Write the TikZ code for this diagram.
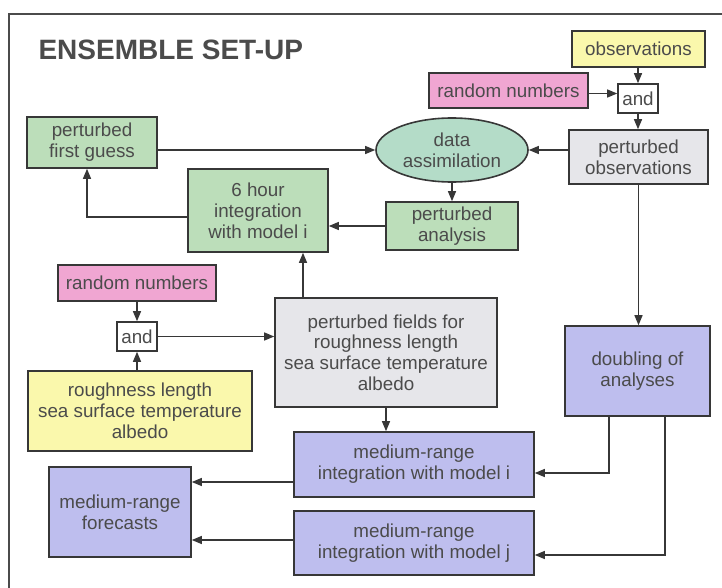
\documentclass[tikz,border=0pt]{standalone}
\usepackage{fontspec}
\setmainfont{Liberation Sans}
\usetikzlibrary{arrows.meta,shapes.geometric}
\definecolor{lnc}{RGB}{55,55,55}
\definecolor{gfill}{RGB}{188,222,186}
\definecolor{dafill}{RGB}{180,220,200}
\definecolor{pfill}{RGB}{240,166,210}
\definecolor{yfill}{RGB}{250,248,172}
\definecolor{grfill}{RGB}{230,230,234}
\definecolor{bfill}{RGB}{190,190,238}
\tikzset{
  boxn/.style={draw=lnc, line width=1.6pt, rectangle, inner sep=0pt, align=center,
    font=\fontsize{18.8}{20.8}\selectfont, text=lnc!90},
  ellip/.style={boxn, ellipse},
  arr/.style={draw=lnc, line width=1.3pt, -{Triangle[length=10pt,width=8pt]}},
}
\begin{document}
\begin{tikzpicture}[x=1pt,y=-1pt]
\useasboundingbox (0,0) rectangle (722,588);
\fill[white] (0,0) rectangle (722,588);
% frame
\draw[draw=lnc!90, line width=1.4pt] (722,14) -- (9,14) -- (9,588);
\node[anchor=base west, font=\fontsize{28}{30}\selectfont\bfseries, text=lnc!90] (title) at (35,60) {ENSEMBLE SET-UP};

% nodes
\node[boxn, fill=gfill, minimum width=130pt, minimum height=51pt] (pfg) at (92,142.5) {perturbed\\first guess};
\node[boxn, fill=gfill, minimum width=140pt, minimum height=83pt] (six) at (258,210.5) {6 hour\\integration\\with model i};
\node[boxn, fill=pfill, minimum width=158pt, minimum height=36pt] (rn1) at (137,283) {random numbers};
\node[boxn, fill=white, minimum width=40pt, minimum height=29pt] (and1) at (137,336.5) {and};
\node[boxn, fill=yfill, minimum width=224pt, minimum height=80pt] (rough) at (140,411) {roughness length\\sea surface temperature\\albedo};
\node[boxn, fill=bfill, minimum width=142pt, minimum height=90pt] (mrf) at (120,512) {medium-range\\forecasts};
\node[boxn, fill=grfill, minimum width=222pt, minimum height=109pt] (pf) at (386,352.5) {perturbed fields for\\roughness length\\sea surface temperature\\albedo};
\node[boxn, fill=bfill, minimum width=240pt, minimum height=65pt] (mri) at (414,464.5) {medium-range\\integration with model i};
\node[boxn, fill=bfill, minimum width=240pt, minimum height=64pt] (mrj) at (414,543) {medium-range\\integration with model j};
\node[boxn, fill=bfill, minimum width=145pt, minimum height=90pt] (dbl) at (637.5,371) {doubling of\\analyses};
\node[boxn, fill=yfill, minimum width=133pt, minimum height=36pt] (obs) at (638.5,49) {observations};
\node[boxn, fill=pfill, minimum width=159pt, minimum height=35pt] (rn2) at (508.5,90.5) {random numbers};
\node[boxn, fill=white, minimum width=40pt, minimum height=29pt] (and2) at (638,98.5) {and};
\node[boxn, fill=grfill, minimum width=139pt, minimum height=54pt] (pobs) at (638.5,157) {perturbed\\observations};
\node[ellip, fill=dafill, minimum width=152pt, minimum height=64pt] (da) at (452,150) {data\\assimilation};
\node[boxn, fill=gfill, minimum width=132pt, minimum height=48pt] (pa) at (452,226) {perturbed\\analysis};

\coordinate (x87) at (87,0);
\coordinate (x303) at (303,0);
\coordinate (x609) at (609,0);
\coordinate (x665) at (665,0);

% connectors
\draw[arr] (pfg.east |- da.west) -- (da.west);
\draw[arr] (pobs.west |- da.east) -- (da.east);
\draw[arr] (da.south) -- (pa.north);
\draw[arr] (pa.west) -- (pa.west -| six.east);
\draw[arr] ([yshift=-6.5pt]six.west) -| (pfg.south -| x87);
\draw[arr] (pf.north -| x303) -- (six.south -| x303);
\draw[arr] (rn1.south) -- (and1.north);
\draw[arr] (and1.south |- rough.north) -- (and1.south);
\draw[arr] (and1.east) -- (and1.east -| pf.west);
\draw[arr] (obs.south -| and2.north) -- (and2.north);
\draw[arr] ([yshift=-3pt]rn2.east) -- ([yshift=-3pt]rn2.east -| and2.west);
\draw[arr] (and2.south) -- (and2.south |- pobs.north);
\draw[arr] (pobs.south) -- (pobs.south |- dbl.north);
\draw[arr] (pf.south) -- (pf.south |- mri.north);
\draw[arr] (dbl.south -| x609) |- ([yshift=-8.5pt]mri.east);
\draw[arr] (dbl.south -| x665) |- ([yshift=-12pt]mrj.east);
\draw[arr] ([yshift=-17.5pt]mri.west) -- ([yshift=-17.5pt]mri.west -| mrf.east);
\draw[arr] ([yshift=3pt]mrj.west) -- ([yshift=3pt]mrj.west -| mrf.east);
\end{tikzpicture}
\end{document}
